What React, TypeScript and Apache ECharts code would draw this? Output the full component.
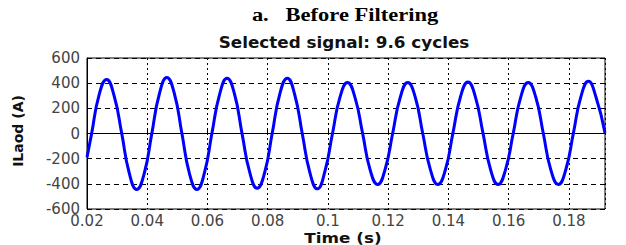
import React, { useEffect, useRef } from "react";
import * as echarts from "echarts";

const timeS: number[] = [
  0.02,
  0.0215, 0.024, 0.0265, 0.029, 0.0315, 0.034, 0.0365, 0.039,
  0.0415, 0.044, 0.0465, 0.049, 0.0515, 0.054, 0.0565, 0.059,
  0.0615, 0.064, 0.0665, 0.069, 0.0715, 0.074, 0.0765, 0.079,
  0.0815, 0.084, 0.0865, 0.089, 0.0915, 0.094, 0.0965, 0.099,
  0.1015, 0.104, 0.1065, 0.109, 0.1115, 0.114, 0.1165, 0.119,
  0.1215, 0.124, 0.1265, 0.129, 0.1315, 0.134, 0.1365, 0.139,
  0.1415, 0.144, 0.1465, 0.149, 0.1515, 0.154, 0.1565, 0.159,
  0.1615, 0.164, 0.1665, 0.169, 0.1715, 0.174, 0.1765, 0.179,
  0.1815, 0.184, 0.1865, 0.189, 0.192,
];

const iLoad: number[] = [
  -190,
  -5, 305, 430, 300, 5, -312, -445, -318,
  -3, 312, 445, 318, 2, -316, -445, -312,
  4, 308, 440, 312, -3, -305, -435, -310,
  2, 312, 440, 306, -4, -310, -440, -300,
  -2, 288, 405, 285, 3, -288, -405, -284,
  2, 286, 405, 288, -2, -285, -405, -288,
  3, 290, 410, 287, 1, -286, -405, -285,
  -2, 287, 405, 290, 2, -288, -405, -286,
  3, 292, 415, 290, 5,
];

const titleText = "a.   Before Filtering";
const subtitleText = "Selected signal: 9.6 cycles";
const xName = "Time (s)";
const yName = "ILaod (A)";

export default function App() {
  const ref = useRef<HTMLDivElement>(null);
  useEffect(() => {
    if (!ref.current) return;
    const chart = echarts.init(ref.current, null, { renderer: "svg" });
    const data = timeS.map((t, i) => [t, iLoad[i]]);
    const labelStyle = {
      color: "#444",
      fontFamily: "'DejaVu Sans', Verdana, sans-serif",
      fontSize: 15,
    };
    chart.setOption({
      animation: false,
      backgroundColor: "#fff",
      grid: {
        left: 87,
        right: 21,
        top: 58,
        bottom: 36,
        show: true,
        borderColor: "#000",
        borderWidth: 1,
        backgroundColor: "transparent",
      },
      graphic: [
        {
          type: "text",
          x: 345,
          y: 15,
          scaleX: 1.25,
          style: {
            text: titleText,
            textAlign: "center",
            textVerticalAlign: "middle",
            font: "bold 18px 'Liberation Serif', 'Times New Roman', serif",
            fill: "#000",
          },
        },
        {
          type: "text",
          x: 344,
          y: 43,
          scaleX: 1.12,
          style: {
            text: subtitleText,
            textAlign: "center",
            textVerticalAlign: "middle",
            font: "bold 15px 'DejaVu Sans', Verdana, sans-serif",
            fill: "#111",
          },
        },
        {
          type: "text",
          x: 343,
          y: 238,
          scaleX: 1.2,
          style: {
            text: xName,
            textAlign: "center",
            textVerticalAlign: "middle",
            font: "bold 14px 'DejaVu Sans', Verdana, sans-serif",
            fill: "#111",
          },
        },
        {
          type: "text",
          x: 18,
          y: 131,
          rotation: Math.PI / 2,
          style: {
            text: yName,
            textAlign: "center",
            textVerticalAlign: "middle",
            font: "bold 14px 'DejaVu Sans', Verdana, sans-serif",
            fill: "#111",
          },
        },
      ],
      xAxis: {
        type: "value",
        min: 0.02,
        max: 0.192,
        interval: 0.02,
        axisLine: { show: true, lineStyle: { color: "#000", width: 1 } },
        axisTick: { show: true, inside: true, length: 4, lineStyle: { color: "#000" } },
        axisLabel: {
          ...labelStyle,
          margin: 4,
          showMaxLabel: false,
          formatter: (v: number) => String(parseFloat(v.toFixed(3))),
        },
        splitLine: {
          show: true,
          lineStyle: { color: "#000", type: [2, 3], width: 1 },
        },
      },
      yAxis: {
        type: "value",
        min: -600,
        max: 600,
        interval: 200,
        axisLine: { show: true, lineStyle: { color: "#000", width: 1 } },
        axisTick: { show: true, inside: true, length: 4, lineStyle: { color: "#000" } },
        axisLabel: { ...labelStyle, margin: 7 },
        splitLine: {
          show: true,
          lineStyle: { color: "#000", type: [5, 4], width: 1 },
        },
      },
      series: [
        {
          type: "line",
          data,
          smooth: 0.5,
          showSymbol: false,
          lineStyle: { color: "#0000ff", width: 3 },
        },
      ],
    });
    return () => chart.dispose();
  }, []);
  return (
    <div
      ref={ref}
      style={{ position: "fixed", left: 0, top: 0, width: 626, height: 245 }}
    />
  );
}
